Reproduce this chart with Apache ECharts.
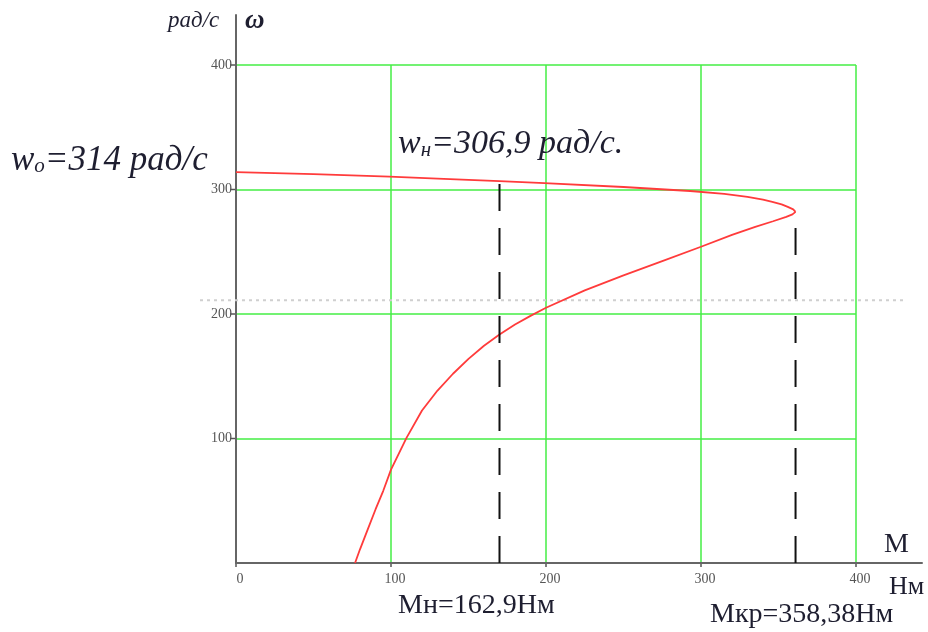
<!DOCTYPE html>
<html>
<head>
<meta charset="utf-8">
<script src="https://cdn.jsdelivr.net/npm/echarts@6/dist/echarts.min.js"></script>
<style>
  html, body { margin: 0; padding: 0; background: #fff; }
  #chart { width: 928px; height: 632px; }
</style>
</head>
<body>
<div id="chart"></div>
<script>
//механическая характеристика: верхняя ветвь (M, ω)
const upperBranch = [
  [0, 314], [50, 312.3], [99, 310.3], [130, 308.8], [170, 306.8], [199, 305.2],
  [250, 302], [293, 298.8], [315, 296.5], [330, 294], [340, 291.8], [346, 290],
  [352, 288], [356, 286], [359.5, 284], [361, 282]
];
//нижняя ветвь
const lowerBranch = [
  [361, 282], [359, 280], [355, 278], [346.5, 274.5], [335, 270], [320, 263.5],
  [300, 254], [275, 242.5], [250, 231], [225, 219], [200, 205], [190, 198.5],
  [180, 191.5], [170, 183.5], [160, 174.5], [150, 164], [140, 152], [130, 138.5],
  [120, 122.5], [110, 100.5], [100, 75], [95, 58], [90, 43], [85, 27],
  [80, 11], [76.8, 0]
];
const nominalLine = [[170, 0], [170, 307]];
const criticalLine = [[361, 0], [361, 282]];
const dottedLevel = 211;
const tickValues = [0, 100, 200, 300, 400];

const serif = "'Liberation Serif', 'DejaVu Serif', serif";
const textColor = "#1e1e30";

const chart = echarts.init(document.getElementById("chart"));
chart.setOption({
  animation: false,
  backgroundColor: "#fff",
  grid: [
    { left: 236, right: 72, top: 65, bottom: 69 },
    // только оси, длиннее сетки
    { left: 236, right: 6, top: 15, bottom: 69 },
  ],
  xAxis: [
    {
      type: "value",
      gridIndex: 0,
      min: 0,
      max: 400,
      interval: 100,
      axisLine: { show: false },
      axisTick: { show: false },
      axisLabel: {
        color: "#555",
        fontFamily: serif,
        fontSize: 14,
        margin: 9,
        padding: [0, 0, 0, 8],
      },
      splitLine: { show: true, lineStyle: { color: "#44ee44", width: 1.5 } },
    },
    {
      type: "value",
      gridIndex: 1,
      min: 0,
      max: 100,
      axisLine: { show: true, lineStyle: { color: "#666", width: 2 } },
      axisTick: { show: false },
      axisLabel: { show: false },
      splitLine: { show: false },
    },
  ],
  yAxis: [
    {
      type: "value",
      gridIndex: 0,
      min: 0,
      max: 400,
      interval: 100,
      axisLine: { show: false },
      axisTick: { show: false },
      axisLabel: {
        color: "#555",
        fontFamily: serif,
        fontSize: 14,
        margin: 4,
        formatter: (v) => (v === 0 ? "" : v),
      },
      splitLine: { show: true, lineStyle: { color: "#44ee44", width: 1.5 } },
    },
    {
      type: "value",
      gridIndex: 1,
      min: 0,
      max: 100,
      axisLine: { show: true, lineStyle: { color: "#666", width: 2 } },
      axisTick: { show: false },
      axisLabel: { show: false },
      splitLine: { show: false },
    },
  ],
  series: [
    {
      type: "line",
      data: upperBranch,
      showSymbol: false,
      lineStyle: { color: "#ff3b3b", width: 1.8 },
      z: 3,
    },
    {
      type: "line",
      data: lowerBranch,
      showSymbol: false,
      lineStyle: { color: "#ff3b3b", width: 1.8 },
      z: 3,
    },
    {
      type: "line",
      data: nominalLine,
      showSymbol: false,
      lineStyle: { color: "#111", width: 2, type: [27, 17] },
      z: 4,
    },
    {
      type: "line",
      data: criticalLine,
      showSymbol: false,
      lineStyle: { color: "#111", width: 2, type: [27, 17] },
      z: 4,
    },
  ],
});

//пунктир и подписи
const yDot = chart.convertToPixel({ gridIndex: 0 }, [0, dottedLevel])[1];
const ticksPx = tickValues.map((v) => chart.convertToPixel({ gridIndex: 0 }, [v, v]));
const sub = (main, idx, size) => ({
  text: "{w|w}{s|" + idx + "}{w|" + main + "}",
  rich: {
    w: { font: "italic " + size + "px " + serif, fill: textColor },
    s: { font: "italic 21px " + serif, fill: textColor, padding: [12, 0, 0, 0] },
  },
});
chart.setOption({
  graphic: [
    {
      type: "line",
      shape: { x1: 200, y1: yDot, x2: 905, y2: yDot },
      style: { stroke: "#cfcfcf", lineWidth: 2, lineDash: [3, 4] },
      z: 1,
    },
    ...ticksPx.slice(1).map((p) => ({
      type: "line",
      shape: { x1: 230, y1: p[1], x2: 236, y2: p[1] },
      style: { stroke: "#555", lineWidth: 1.5 },
    })),
    ...ticksPx.map((p) => ({
      type: "line",
      shape: { x1: p[0], y1: 563, x2: p[0], y2: 567 },
      style: { stroke: "#555", lineWidth: 1.5 },
    })),
    {
      type: "text",
      left: 168,
      top: 9,
      style: { text: "рад/с", font: "italic 23px " + serif, fill: textColor },
    },
    {
      type: "text",
      left: 245,
      top: 8,
      style: { text: "ω", font: "italic bold 27px " + serif, fill: textColor },
    },
    { type: "text", left: 11, top: 143, style: sub("=314 рад/с", "o", 35) },
    { type: "text", left: 398, top: 127, style: sub("=306,9 рад/с.", "н", 34) },
    {
      type: "text",
      left: 884,
      top: 531,
      style: { text: "M", font: "28px " + serif, fill: textColor },
    },
    {
      type: "text",
      left: 889,
      top: 574,
      style: { text: "Нм", font: "26px " + serif, fill: textColor },
    },
    {
      type: "text",
      left: 398,
      top: 592,
      style: { text: "Мн=162,9Нм", font: "28px " + serif, fill: textColor },
    },
    {
      type: "text",
      left: 710,
      top: 601,
      style: { text: "Мкр=358,38Нм", font: "28px " + serif, fill: textColor },
    },
  ],
});
</script>
</body>
</html>
